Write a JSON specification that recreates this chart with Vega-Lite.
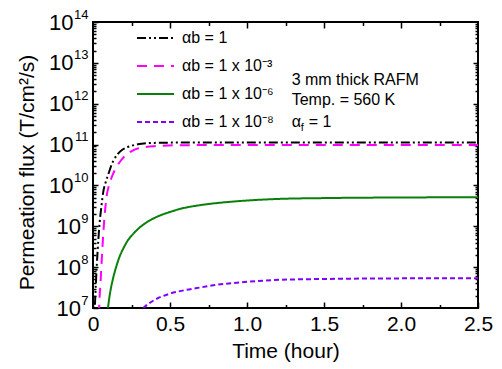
{
  "$schema": "https://vega.github.io/schema/vega-lite/v6.json",
  "width": 385,
  "height": 286,
  "autosize": {"type": "none"},
  "padding": {"left": 93, "top": 22, "right": 24, "bottom": 61},
  "background": "white",
  "config": {
    "view": {"stroke": "black", "strokeWidth": 2},
    "font": "Liberation Sans",
    "axis": {"domain": false, "grid": false, "tickColor": "black", "tickWidth": 1.5, "labelColor": "black", "titleColor": "black", "labelFont": "Liberation Sans", "titleFont": "Liberation Sans", "titleFontWeight": "normal", "labelFlush": false, "labelOverlap": false, "labelBound": false},
    "legend": {"orient": "none", "legendX": 43, "legendY": 2, "padding": 0, "symbolType": "stroke", "symbolSize": 1369, "symbolStrokeWidth": 2, "labelFontSize": 16, "labelFont": "Liberation Sans", "labelColor": "black", "labelOffset": 7, "rowPadding": 0, "clipHeight": 28}
  },
  "datasets": {
    "flux": [
      {"t": 0.005, "flux": 1e6, "s": "αb = 1"},
      {"t": 0.012, "flux": 1e7, "s": "αb = 1"},
      {"t": 0.02, "flux": 5.0e7, "s": "αb = 1"},
      {"t": 0.03, "flux": 2.5e8, "s": "αb = 1"},
      {"t": 0.04, "flux": 8.9e8, "s": "αb = 1"},
      {"t": 0.055, "flux": 3.16e9, "s": "αb = 1"},
      {"t": 0.067, "flux": 7.08e9, "s": "αb = 1"},
      {"t": 0.08, "flux": 1.12e10, "s": "αb = 1"},
      {"t": 0.1, "flux": 1.9e10, "s": "αb = 1"},
      {"t": 0.115, "flux": 2.82e10, "s": "αb = 1"},
      {"t": 0.132, "flux": 3.98e10, "s": "αb = 1"},
      {"t": 0.155, "flux": 5.5e10, "s": "αb = 1"},
      {"t": 0.186, "flux": 7.24e10, "s": "αb = 1"},
      {"t": 0.22, "flux": 8.51e10, "s": "αb = 1"},
      {"t": 0.25, "flux": 9.33e10, "s": "αb = 1"},
      {"t": 0.316, "flux": 1.05e11, "s": "αb = 1"},
      {"t": 0.4, "flux": 1.1e11, "s": "αb = 1"},
      {"t": 0.6, "flux": 1.12e11, "s": "αb = 1"},
      {"t": 2.5, "flux": 1.12e11, "s": "αb = 1"},
      {"t": 0.033, "flux": 1e6, "s": "αb = 1 x 10⁻³"},
      {"t": 0.04, "flux": 1e7, "s": "αb = 1 x 10⁻³"},
      {"t": 0.05, "flux": 5.0e7, "s": "αb = 1 x 10⁻³"},
      {"t": 0.06, "flux": 2.5e8, "s": "αb = 1 x 10⁻³"},
      {"t": 0.07, "flux": 1e9, "s": "αb = 1 x 10⁻³"},
      {"t": 0.08, "flux": 2.82e9, "s": "αb = 1 x 10⁻³"},
      {"t": 0.089, "flux": 5.62e9, "s": "αb = 1 x 10⁻³"},
      {"t": 0.1, "flux": 8.9e9, "s": "αb = 1 x 10⁻³"},
      {"t": 0.121, "flux": 1.58e10, "s": "αb = 1 x 10⁻³"},
      {"t": 0.154, "flux": 2.88e10, "s": "αb = 1 x 10⁻³"},
      {"t": 0.197, "flux": 4.79e10, "s": "αb = 1 x 10⁻³"},
      {"t": 0.26, "flux": 7.24e10, "s": "αb = 1 x 10⁻³"},
      {"t": 0.33, "flux": 8.51e10, "s": "αb = 1 x 10⁻³"},
      {"t": 0.39, "flux": 9.12e10, "s": "αb = 1 x 10⁻³"},
      {"t": 0.6, "flux": 9.66e10, "s": "αb = 1 x 10⁻³"},
      {"t": 1.0, "flux": 9.77e10, "s": "αb = 1 x 10⁻³"},
      {"t": 2.5, "flux": 9.77e10, "s": "αb = 1 x 10⁻³"},
      {"t": 0.092, "flux": 7.1e6, "s": "αb = 1 x 10⁻⁶"},
      {"t": 0.097, "flux": 1e7, "s": "αb = 1 x 10⁻⁶"},
      {"t": 0.11, "flux": 2.24e7, "s": "αb = 1 x 10⁻⁶"},
      {"t": 0.13, "flux": 5.25e7, "s": "αb = 1 x 10⁻⁶"},
      {"t": 0.15, "flux": 1e8, "s": "αb = 1 x 10⁻⁶"},
      {"t": 0.173, "flux": 1.82e8, "s": "αb = 1 x 10⁻⁶"},
      {"t": 0.2, "flux": 3.02e8, "s": "αb = 1 x 10⁻⁶"},
      {"t": 0.227, "flux": 4.57e8, "s": "αb = 1 x 10⁻⁶"},
      {"t": 0.26, "flux": 6.46e8, "s": "αb = 1 x 10⁻⁶"},
      {"t": 0.3, "flux": 9.12e8, "s": "αb = 1 x 10⁻⁶"},
      {"t": 0.35, "flux": 1.26e9, "s": "αb = 1 x 10⁻⁶"},
      {"t": 0.42, "flux": 1.74e9, "s": "αb = 1 x 10⁻⁶"},
      {"t": 0.5, "flux": 2.24e9, "s": "αb = 1 x 10⁻⁶"},
      {"t": 0.56, "flux": 2.63e9, "s": "αb = 1 x 10⁻⁶"},
      {"t": 0.7, "flux": 3.31e9, "s": "αb = 1 x 10⁻⁶"},
      {"t": 0.85, "flux": 3.85e9, "s": "αb = 1 x 10⁻⁶"},
      {"t": 1.0, "flux": 4.27e9, "s": "αb = 1 x 10⁻⁶"},
      {"t": 1.21, "flux": 4.68e9, "s": "αb = 1 x 10⁻⁶"},
      {"t": 1.5, "flux": 4.9e9, "s": "αb = 1 x 10⁻⁶"},
      {"t": 2.0, "flux": 5.07e9, "s": "αb = 1 x 10⁻⁶"},
      {"t": 2.5, "flux": 5.13e9, "s": "αb = 1 x 10⁻⁶"},
      {"t": 0.29, "flux": 7.08e6, "s": "αb = 1 x 10⁻⁸"},
      {"t": 0.327, "flux": 1e7, "s": "αb = 1 x 10⁻⁸"},
      {"t": 0.4, "flux": 1.58e7, "s": "αb = 1 x 10⁻⁸"},
      {"t": 0.49, "flux": 2.19e7, "s": "αb = 1 x 10⁻⁸"},
      {"t": 0.6, "flux": 2.75e7, "s": "αb = 1 x 10⁻⁸"},
      {"t": 0.71, "flux": 3.24e7, "s": "αb = 1 x 10⁻⁸"},
      {"t": 0.78, "flux": 3.59e7, "s": "αb = 1 x 10⁻⁸"},
      {"t": 1.0, "flux": 4.37e7, "s": "αb = 1 x 10⁻⁸"},
      {"t": 1.21, "flux": 4.9e7, "s": "αb = 1 x 10⁻⁸"},
      {"t": 1.5, "flux": 5.13e7, "s": "αb = 1 x 10⁻⁸"},
      {"t": 2.0, "flux": 5.31e7, "s": "αb = 1 x 10⁻⁸"},
      {"t": 2.5, "flux": 5.37e7, "s": "αb = 1 x 10⁻⁸"}
    ]
  },
  "data": {"name": "flux"},
  "layer": [
    {
      "mark": {"type": "line", "strokeWidth": 2, "clip": true, "interpolate": "monotone"},
      "encoding": {
        "x": {"field": "t", "type": "quantitative", "scale": {"domain": [0, 2.5], "nice": false, "zero": false},
          "axis": {"orient": "bottom", "values": [0, 0.5, 1, 1.5, 2, 2.5], "labelExpr": "datum.value == 0 ? '0' : format(datum.value, '.1f')", "tickSize": -6, "labelPadding": 11, "labelFontSize": 21, "title": "Time (hour)", "titleFontSize": 21, "titleX": 192.5, "titleY": 43, "titleBaseline": "middle", "titleAlign": "center"}},
        "y": {"field": "flux", "type": "quantitative", "scale": {"type": "log", "domain": [1e7, 1e14], "nice": false},
          "axis": {"orient": "left", "values": [1e7, 1e8, 1e9], "labelExpr": "'10'", "tickSize": -5, "labelPadding": 17.5, "labelFontSize": 22, "labelBaseline": "middle", "labelAlign": "right", "title": "Permeation flux (T/cm²/s)", "titleFontSize": 21, "titleX": -66, "titleY": 150, "titleAngle": -90, "titleBaseline": "middle", "titleAlign": "center"}},
        "color": {"field": "s", "type": "nominal", "scale": {"domain": ["αb = 1", "αb = 1 x 10⁻³", "αb = 1 x 10⁻⁶", "αb = 1 x 10⁻⁸"], "range": ["#000000", "#ff00ff", "#0a800a", "#8000ff"]}, "legend": {"title": null}},
        "strokeDash": {"field": "s", "type": "nominal", "scale": {"domain": ["αb = 1", "αb = 1 x 10⁻³", "αb = 1 x 10⁻⁶", "αb = 1 x 10⁻⁸"], "range": [[9, 3, 2, 3, 2, 3], [10, 7], [1, 0], [5, 3]]}, "legend": {"title": null}}
      }
    },
    {
      "mark": {"type": "point", "opacity": 0},
      "encoding": {
        "x": {"field": "t", "type": "quantitative", "scale": {"domain": [0, 2.5], "nice": false, "zero": false},
          "axis": {"orient": "top", "values": [0.5, 1, 1.5, 2], "tickSize": -6, "labels": false, "title": null}},
        "y": {"field": "flux", "type": "quantitative", "scale": {"type": "log", "domain": [1e7, 1e14], "nice": false},
          "axis": {"orient": "left", "values": [1e10, 1e11, 1e12, 1e13, 1e14], "labelExpr": "'10'", "tickSize": -5, "labelPadding": 25, "labelFontSize": 22, "labelBaseline": "middle", "labelAlign": "right", "title": null}}
      }
    },
    {
      "mark": {"type": "point", "opacity": 0},
      "encoding": {
        "x": {"field": "t", "type": "quantitative", "scale": {"domain": [0, 2.5], "nice": false, "zero": false},
          "axis": {"orient": "bottom", "values": [0.25, 0.75, 1.25, 1.75, 2.25], "tickSize": -3.5, "labels": false, "title": null}},
        "y": {"field": "flux", "type": "quantitative", "scale": {"type": "log", "domain": [1e7, 1e14], "nice": false},
          "axis": {"orient": "left", "values": [1e7, 1e8, 1e9, 1e10, 1e11, 1e12, 1e13, 1e14], "ticks": false, "labelExpr": "'' + round(log(datum.value) / LN10)", "labelAlign": "right", "labelPadding": 5, "labelFontSize": 13, "labelOffset": -8, "labelBaseline": "middle", "title": null}}
      }
    },
    {
      "mark": {"type": "point", "opacity": 0},
      "encoding": {
        "x": {"field": "t", "type": "quantitative", "scale": {"domain": [0, 2.5], "nice": false, "zero": false},
          "axis": {"orient": "top", "values": [0.25, 0.75, 1.25, 1.75, 2.25], "tickSize": -3.5, "labels": false, "title": null}},
        "y": {"field": "flux", "type": "quantitative", "scale": {"type": "log", "domain": [1e7, 1e14], "nice": false},
          "axis": {"orient": "left", "values": [2e7, 3e7, 4e7, 5e7, 6e7, 7e7, 8e7, 9e7, 2e8, 3e8, 4e8, 5e8, 6e8, 7e8, 8e8, 9e8, 2e9, 3e9, 4e9, 5e9, 6e9, 7e9, 8e9, 9e9, 2e10, 3e10, 4e10, 5e10, 6e10, 7e10, 8e10, 9e10, 2e11, 3e11, 4e11, 5e11, 6e11, 7e11, 8e11, 9e11, 2e12, 3e12, 4e12, 5e12, 6e12, 7e12, 8e12, 9e12, 2e13, 3e13, 4e13, 5e13, 6e13, 7e13, 8e13, 9e13], "tickSize": -3, "labels": false, "title": null}}
      }
    },
    {
      "mark": {"type": "point", "opacity": 0},
      "encoding": {
        "x": {"field": "t", "type": "quantitative", "scale": {"domain": [0, 2.5], "nice": false, "zero": false}, "axis": null},
        "y": {"field": "flux", "type": "quantitative", "scale": {"type": "log", "domain": [1e7, 1e14], "nice": false},
          "axis": {"orient": "right", "values": [1e8, 1e9, 1e10, 1e11, 1e12, 1e13], "tickSize": -5, "labels": false, "title": null}}
      }
    },
    {
      "mark": {"type": "point", "opacity": 0},
      "encoding": {
        "x": {"field": "t", "type": "quantitative", "scale": {"domain": [0, 2.5], "nice": false, "zero": false}, "axis": null},
        "y": {"field": "flux", "type": "quantitative", "scale": {"type": "log", "domain": [1e7, 1e14], "nice": false},
          "axis": {"orient": "right", "values": [2e7, 3e7, 4e7, 5e7, 6e7, 7e7, 8e7, 9e7, 2e8, 3e8, 4e8, 5e8, 6e8, 7e8, 8e8, 9e8, 2e9, 3e9, 4e9, 5e9, 6e9, 7e9, 8e9, 9e9, 2e10, 3e10, 4e10, 5e10, 6e10, 7e10, 8e10, 9e10, 2e11, 3e11, 4e11, 5e11, 6e11, 7e11, 8e11, 9e11, 2e12, 3e12, 4e12, 5e12, 6e12, 7e12, 8e12, 9e12, 2e13, 3e13, 4e13, 5e13, 6e13, 7e13, 8e13, 9e13], "tickSize": -3, "labels": false, "title": null}}
      }
    },
    {
      "data": {"values": [{}]},
      "mark": {"type": "text", "text": "3 mm thick RAFM", "align": "left", "baseline": "middle", "fontSize": 16, "font": "Liberation Sans", "color": "black"},
      "encoding": {
        "x": {"datum": 1.29, "type": "quantitative", "scale": {"domain": [0, 2.5], "nice": false, "zero": false}, "axis": null},
        "y": {"datum": 3.8e12, "type": "quantitative", "scale": {"type": "log", "domain": [1e7, 1e14], "nice": false}, "axis": null}
      }
    },
    {
      "data": {"values": [{}]},
      "mark": {"type": "text", "text": "Temp. = 560 K", "align": "left", "baseline": "middle", "fontSize": 16, "font": "Liberation Sans", "color": "black"},
      "encoding": {
        "x": {"datum": 1.29, "type": "quantitative", "scale": {"domain": [0, 2.5], "nice": false, "zero": false}, "axis": null},
        "y": {"datum": 1.23e12, "type": "quantitative", "scale": {"type": "log", "domain": [1e7, 1e14], "nice": false}, "axis": null}
      }
    },
    {
      "data": {"values": [{}]},
      "mark": {"type": "text", "text": "α", "align": "left", "baseline": "middle", "fontSize": 16, "font": "Liberation Sans", "color": "black"},
      "encoding": {
        "x": {"datum": 1.29, "type": "quantitative", "scale": {"domain": [0, 2.5], "nice": false, "zero": false}, "axis": null},
        "y": {"datum": 3.6e11, "type": "quantitative", "scale": {"type": "log", "domain": [1e7, 1e14], "nice": false}, "axis": null}
      }
    },
    {
      "data": {"values": [{}]},
      "mark": {"type": "text", "text": "f", "align": "left", "baseline": "middle", "fontSize": 11, "font": "Liberation Sans", "color": "black", "dx": 9, "dy": 6},
      "encoding": {
        "x": {"datum": 1.29, "type": "quantitative", "scale": {"domain": [0, 2.5], "nice": false, "zero": false}, "axis": null},
        "y": {"datum": 3.6e11, "type": "quantitative", "scale": {"type": "log", "domain": [1e7, 1e14], "nice": false}, "axis": null}
      }
    },
    {
      "data": {"values": [{}]},
      "mark": {"type": "text", "text": "= 1", "align": "left", "baseline": "middle", "fontSize": 16, "font": "Liberation Sans", "color": "black", "dx": 17},
      "encoding": {
        "x": {"datum": 1.29, "type": "quantitative", "scale": {"domain": [0, 2.5], "nice": false, "zero": false}, "axis": null},
        "y": {"datum": 3.6e11, "type": "quantitative", "scale": {"type": "log", "domain": [1e7, 1e14], "nice": false}, "axis": null}
      }
    }
  ],
  "resolve": {"axis": {"x": "independent", "y": "independent"}}
}
